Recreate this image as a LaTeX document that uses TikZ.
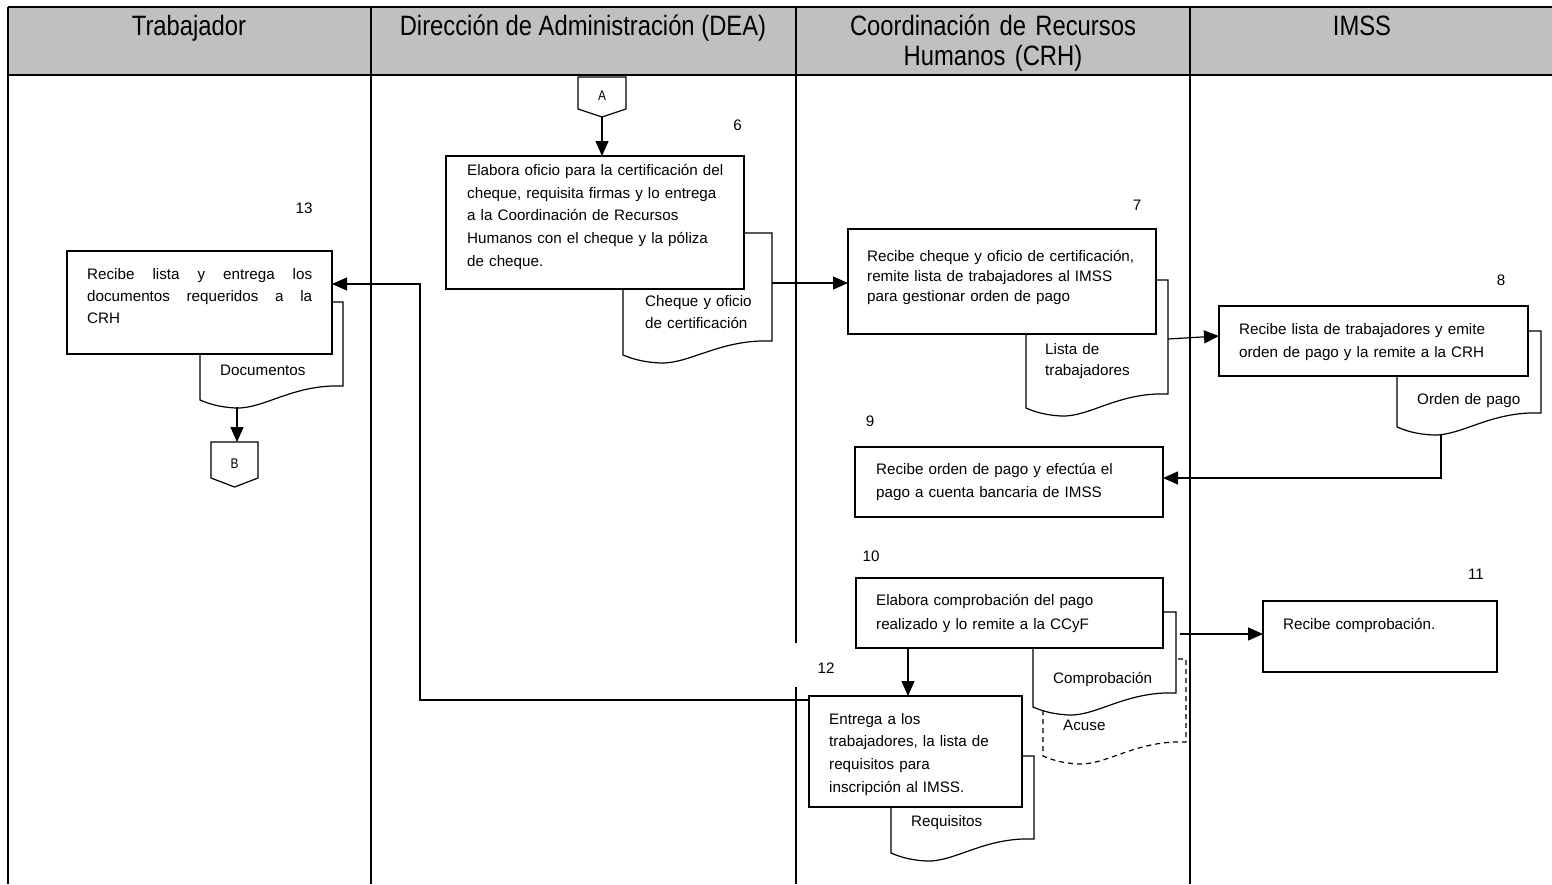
\documentclass[tikz,border=0pt]{standalone}
\usepackage{fontspec}
\setmainfont{Liberation Sans}
\newfontfamily\headfont{Liberation Sans}[FakeStretch=0.85]
\usetikzlibrary{arrows.meta,calc}
\definecolor{hdrgray}{RGB}{192,192,192}
\newcommand{\bodyf}{\fontsize{15.2}{22.7}\selectfont}
\newcommand{\headf}{\headfont\fontsize{28}{30}\selectfont}
\newcommand{\docshape}[5][]{%
  \draw[docst,#1] (#2,#3) -- (#4,#3) -- (#4,{#5-14})
    .. controls ({#2+0.65*(#4-#2)},{#5-16}) and ({#2+0.45*(#4-#2)},{#5+9}) .. ({#2+0.25*(#4-#2)},{#5+8})
    .. controls ({#2+0.12*(#4-#2)},{#5+7}) and ({#2+0.05*(#4-#2)},{#5+3}) .. (#2,#5) -- cycle;}
\begin{document}
\begin{tikzpicture}[x=1pt,y=-1pt,
  lane/.style={line width=1.3pt},
  box/.style={draw, line width=1.2pt, fill=white, inner sep=0pt, outer sep=0pt},
  docst/.style={draw, line width=1.2pt, fill=white},
  arr/.style={line width=1.2pt, -{Triangle[length=15pt,width=13pt]}},
  txt/.style={anchor=base west, inner sep=0pt, align=left, font=\bodyf, text width=#1},
  txt/.default=300pt,
  bs/.style={font=\fontsize{15.2}{#1}\selectfont},
  num/.style={anchor=base, inner sep=0pt, font=\bodyf},
  hd/.style={anchor=base, inner sep=0pt, font=\headf},
  conn/.style={inner sep=0pt, outer sep=0pt, font=\headfont\fontsize{14}{14}\selectfont},
  connshape/.style={line width=1.2pt, fill=white}
]
\useasboundingbox (0,0) rectangle (1552,884);
% header
\fill[hdrgray] (8,7) rectangle (1552,75);
\draw[lane] (8,7) -- (1552,7);
\draw[lane] (8,75) -- (1552,75);
% lanes
\draw[lane] (8,7) -- (8,884);
\draw[lane] (371,7) -- (371,884);
\draw[lane] (796,7) -- (796,643);
\draw[lane] (796,687) -- (796,884);
\draw[lane] (1190,7) -- (1190,884);
% header texts
\node[hd] (h1) at (189,35) {Trabajador};
\node[hd] (h2) at (583,35) {Dirección de Administración (DEA)};
\node[hd, text width=330pt, align=center] (h3) at (993,35) {Coordinación de Recursos\\Humanos (CRH)};
\node[hd] (h4) at (1362,35) {IMSS};

% documents (behind boxes)
\docshape{623}{233}{772}{355}
\docshape{200}{302}{343}{400}
\docshape{1026}{280}{1168}{408}
\docshape{1397}{331}{1541}{427}
\docshape[dash pattern=on 5pt off 4pt]{1043}{659}{1186}{756}
\docshape{1033}{612}{1176}{707}
\docshape{891}{756}{1034}{853}

% process boxes
\node[box, minimum width=298pt, minimum height=133pt] (b6) at (595,222.5) {};
\node[box, minimum width=308pt, minimum height=105pt] (b7) at (1002,281.5) {};
\node[box, minimum width=309pt, minimum height=70pt] (b8) at (1373.5,341) {};
\node[box, minimum width=308pt, minimum height=70pt] (b9) at (1009,482) {};
\node[box, minimum width=307pt, minimum height=70pt] (b10) at (1009.5,613) {};
\node[box, minimum width=234pt, minimum height=71pt] (b11) at (1380,636.5) {};
\node[box, minimum width=213pt, minimum height=111pt] (b12) at (915.5,751.5) {};
\node[box, minimum width=265pt, minimum height=103pt] (b13) at (199.5,302.5) {};

% off-page connectors
\node[conn, minimum width=48pt, minimum height=40pt] (A) at (602,97) {};
\draw[connshape] (A.north west) -- (A.north east) -- ([yshift=8pt]A.south east) -- (A.south) -- ([yshift=8pt]A.south west) -- cycle;
\node[conn] (Alabel) at ([yshift=1pt]A) {A};
\node[conn, minimum width=47pt, minimum height=45pt] (B) at (234.5,464.5) {};
\draw[connshape] (B.north west) -- (B.north east) -- ([yshift=9pt]B.south east) -- (B.south) -- ([yshift=9pt]B.south west) -- cycle;
\node[conn] (Blabel) at ([yshift=1pt]B) {B};

% box texts
\node[txt] (t6) at (467,175.5) {Elabora oficio para la certificación del\\cheque, requisita firmas y lo entrega\\a la Coordinación de Recursos\\Humanos con el cheque y la póliza\\de cheque.};
\node[txt, bs=20] (t7) at (867,261.5) {Recibe cheque y oficio de certificación,\\remite lista de trabajadores al IMSS\\para gestionar orden de pago};
\node[txt, bs=23.3] (t8) at (1239,334) {Recibe lista de trabajadores y emite\\orden de pago y la remite a la CRH};
\node[txt, bs=23] (t9) at (876,474) {Recibe orden de pago y efectúa el\\pago a cuenta bancaria de IMSS};
\node[txt, bs=23.3] (t10) at (876,605.7) {Elabora comprobación del pago\\realizado y lo remite a la CCyF};
\node[txt] (t11) at (1283,629) {Recibe comprobación.};
\node[txt, bs=22.9] (t12) at (829,724) {Entrega a los\\trabajadores, la lista de\\requisitos para\\inscripción al IMSS.};
\node[txt, bs=22] (t13) at (87,279.3) {\makebox[225pt][l]{Recibe\hfill lista\hfill y\hfill entrega\hfill los}\\\makebox[225pt][l]{documentos\hfill requeridos\hfill a\hfill la}\\CRH};

% document texts
\node[txt, bs=21.5] (dt6) at (645,306.7) {Cheque y oficio\\de certificación};
\node[txt] (dt13) at (220,375) {Documentos};
\node[txt, bs=21] (dt7) at (1045,354) {Lista de\\trabajadores};
\node[txt] (dt8) at (1417,404) {Orden de pago};
\node[txt] (dt10) at (1053,683) {Comprobación};
\node[txt] (dtA) at (1063,730.7) {Acuse};
\node[txt] (dt12) at (911,826.7) {Requisitos};

% step numbers
\node[num] (n6) at (737.5,130) {6};
\node[num] (n7) at (1137,210) {7};
\node[num] (n8) at (1501,285) {8};
\node[num] (n9) at (870,426.7) {9};
\node[num] (n10) at (871,561.7) {10};
\node[num] (n11) at (1476,579) {11};
\node[num] (n12) at (826,673) {12};
\node[num] (n13) at (304,213) {13};

% connector anchor points on documents
\coordinate (d6e) at (772,283);
\coordinate (d7e) at (1168,339);
\coordinate (d8s) at (1441,435);
\coordinate (d10e) at (1180,634);
\coordinate (d13s) at (237,407);
\coordinate (cA) at (420,284);

% connectors
\draw[arr] (A.south) -- (A.south |- b6.north);
\draw[arr] (d6e) -- (d6e -| b7.west);
\draw[arr] (d7e) -- ([yshift=5pt]b8.west);
\draw[arr] (d8s) |- ([yshift=4pt]b9.east);
\draw[arr] (d10e) -- (d10e -| b11.west);
\draw[arr] ([xshift=-7.5pt]b12.north |- b10.south) -- ([xshift=-7.5pt]b12.north);
\draw[arr] ([yshift=-4pt]b12.north west) -| (cA) -- (cA -| b13.east);
\draw[arr] (d13s) -- (d13s |- B.north);
\end{tikzpicture}
\end{document}
